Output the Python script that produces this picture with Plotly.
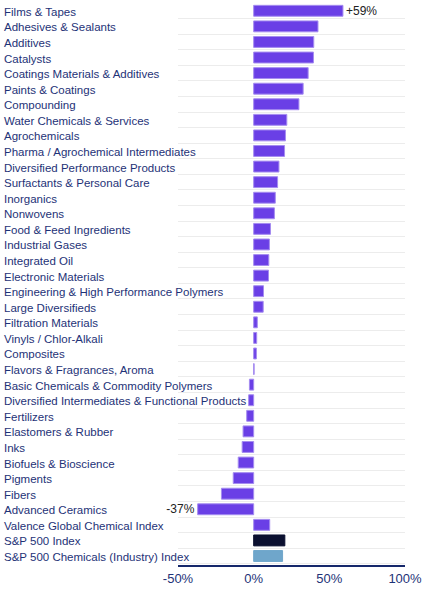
import plotly.graph_objects as go

# categories top to bottom, as in the picture
categories = [
    "Films & Tapes", "Adhesives & Sealants", "Additives", "Catalysts",
    "Coatings Materials & Additives", "Paints & Coatings", "Compounding",
    "Water Chemicals & Services", "Agrochemicals", "Pharma / Agrochemical Intermediates",
    "Diversified Performance Products", "Surfactants & Personal Care", "Inorganics",
    "Nonwovens", "Food & Feed Ingredients", "Industrial Gases", "Integrated Oil",
    "Electronic Materials", "Engineering & High Performance Polymers",
    "Large Diversifieds", "Filtration Materials", "Vinyls / Chlor-Alkali",
    "Composites", "Flavors & Fragrances, Aroma",
    "Basic Chemicals & Commodity Polymers",
    "Diversified Intermediates & Functional Products", "Fertilizers",
    "Elastomers & Rubber", "Inks", "Biofuels & Bioscience", "Pigments", "Fibers",
    "Advanced Ceramics", "Valence Global Chemical Index", "S&P 500 Index",
    "S&P 500 Chemicals (Industry) Index",
]
returns = [
    59, 42.5, 39.7, 39.5, 36, 32.7, 29.9, 21.9, 21, 20.4, 16.7, 15.8, 14.3, 13.7,
    11.1, 10.4, 10, 9.8, 6.5, 6.3, 2.4, 2, 1.8, 0.3, -2.8, -3.3, -4.6, -7, -7.6,
    -10.2, -13.5, -21.3, -37, 10.6, 20.6, 19.1,
]
value_labels = {"Films & Tapes": "+59%", "Advanced Ceramics": "-37%"}
x_ticks = [-50, 0, 50, 100]
x_tick_labels = ["-50%", "0%", "50%", "100%"]

PURPLE = "#6a3fe6"
NAVY = "#1e3277"
special = {"S&P 500 Index": "#0b1030", "S&P 500 Chemicals (Industry) Index": "#6fa6cb"}

colors = [special.get(c, PURPLE) for c in categories]
outline = ["#a58cf0" if c not in special else special[c] for c in categories]
texts = [value_labels.get(c, "") for c in categories]

W, H = 425, 590
L, R, T, B = 178, 16, 3, 25

fig = go.Figure()
fig.add_trace(
    go.Bar(
        y=categories,
        x=returns,
        orientation="h",
        marker=dict(color=colors, line=dict(color=outline, width=1)),
        text=texts,
        textposition="outside",
        constraintext="none",
        textfont=dict(color="#222222", size=12),
        cliponaxis=False,
        hoverinfo="skip",
    )
)

# left-aligned category labels
plot_w = W - L - R
for c in categories:
    fig.add_annotation(
        x=(3 - L) / plot_w, xref="paper", y=c, yref="y",
        text=c, showarrow=False, xanchor="left", yanchor="middle",
        xshift=-4, yshift=-1,
        font=dict(color=NAVY, size=11.5),
    )

fig.update_layout(
    width=W,
    height=H,
    margin=dict(l=L, r=R, t=T, b=B),
    paper_bgcolor="white",
    plot_bgcolor="white",
    showlegend=False,
    bargap=0.3,
    hovermode=False,
    font=dict(family="Liberation Sans, Arial, sans-serif", color=NAVY, size=12),
    xaxis=dict(
        range=[-50, 100],
        tickvals=x_ticks,
        ticktext=x_tick_labels,
        ticklabeloverflow="allow",
        showgrid=False,
        zeroline=False,
        showline=True,
        linecolor="#16286b",
        linewidth=2,
        ticks="",
        tickfont=dict(size=13, color=NAVY),
        fixedrange=True,
    ),
    yaxis=dict(
        categoryorder="array",
        categoryarray=categories[::-1],
        showticklabels=False,
        tickson="boundaries",
        showgrid=True,
        gridcolor="#ececec",
        gridwidth=1,
        zeroline=False,
        ticks="",
        fixedrange=True,
    ),
)

fig.write_html(
    "out.html",
    config={"displayModeBar": False},
    post_script="document.body.style.margin='0';",
)
